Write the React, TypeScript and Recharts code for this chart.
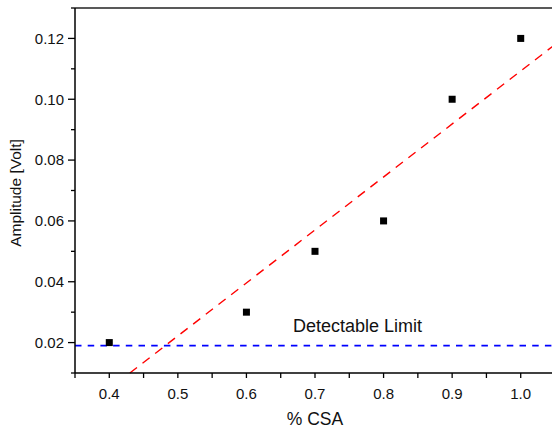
import React from "react";
import {
  ScatterChart,
  Scatter,
  XAxis,
  YAxis,
  ReferenceLine,
} from "recharts";

// measured points (% CSA vs amplitude)
const csa = [0.4, 0.6, 0.7, 0.8, 0.9, 1.0];
const amplitude = [0.02, 0.03, 0.05, 0.06, 0.1, 0.12];

// linear fit drawn as a segment
const fitLine = [
  { x: 0.43, y: 0.01 },
  { x: 1.05, y: 0.118 },
];
const detectableLimit = 0.019;

const xTicks = [0.35, 0.4, 0.45, 0.5, 0.55, 0.6, 0.65, 0.7, 0.75, 0.8, 0.85, 0.9, 0.95, 1.0, 1.05];
const yTicks = [0.01, 0.02, 0.03, 0.04, 0.05, 0.06, 0.07, 0.08, 0.09, 0.1, 0.11, 0.12, 0.13];

const points = csa.map((x, i) => ({ x, y: amplitude[i] }));

const FONT = "'Liberation Sans', Arial, sans-serif";

const XTick = (props: any) => {
  const { x, y, payload } = props;
  const v = payload.value;
  const major = Math.round(v * 100) % 10 === 0;
  return (
    <g>
      <line x1={x} x2={x} y1={y} y2={y + 5} stroke="#000" strokeWidth={1.3} />
      {major && (
        <text x={x} y={y + 26} textAnchor="middle" fontSize={15} fontFamily={FONT} fill="#111">
          {v.toFixed(1)}
        </text>
      )}
    </g>
  );
};

const YTick = (props: any) => {
  const { x, y, payload } = props;
  const v = payload.value;
  const c = Math.round(v * 100);
  const major = c % 2 === 0 && c >= 2 && c <= 12;
  return (
    <g>
      <line x1={x} x2={x - (major ? 7 : 4)} y1={y} y2={y} stroke="#000" strokeWidth={1.3} />
      {major && (
        <text x={x - 11} y={y} dy="0.35em" textAnchor="end" fontSize={15} fontFamily={FONT} fill="#111">
          {v.toFixed(2)}
        </text>
      )}
    </g>
  );
};

const Square = (props: any) => (
  <rect x={props.cx - 3.5} y={props.cy - 3.5} width={7} height={7} fill="#000" />
);

export default function App() {
  return (
    <div
      style={{
        position: "absolute",
        left: 0,
        top: 0,
        width: 552,
        height: 432,
        overflow: "hidden",
        background: "#fff",
      }}
    >
      <ScatterChart width={560} height={432} margin={{ top: 7, right: 5, bottom: 58, left: 74 }}>
        <XAxis
          type="number"
          dataKey="x"
          domain={[0.35, 1.05]}
          ticks={xTicks}
          interval={0}
          height={1}
          tickSize={0}
          tickMargin={0}
          tickLine={false}
          tick={<XTick />}
          axisLine={{ stroke: "#000", strokeWidth: 1.5 }}
          label={{
            value: "% CSA",
            position: "bottom",
            offset: 39,
            fontSize: 17.5,
            fontFamily: FONT,
            fill: "#111",
          }}
        />
        <XAxis
          xAxisId="top"
          orientation="top"
          type="number"
          domain={[0.35, 1.05]}
          height={1}
          tick={false}
          tickLine={false}
          axisLine={{ stroke: "#222", strokeWidth: 1.5 }}
        />
        <YAxis
          type="number"
          dataKey="y"
          domain={[0.01, 0.13]}
          ticks={yTicks}
          interval={0}
          width={1}
          tickSize={0}
          tickMargin={0}
          tickLine={false}
          tick={<YTick />}
          axisLine={{ stroke: "#000", strokeWidth: 1.5 }}
        />
        <ReferenceLine
          y={detectableLimit}
          stroke="#0000ff"
          strokeWidth={1.6}
          strokeDasharray="6.5 6.2"
          label={(p: any) => (
            <text
              x={p.viewBox.x + 218}
              y={p.viewBox.y - 14}
              fontSize={18}
              fontFamily={FONT}
              fill="#111"
            >
              Detectable Limit
            </text>
          )}
        />
        <ReferenceLine
          segment={fitLine}
          stroke="#ff0000"
          strokeWidth={1.4}
          strokeDasharray="9 7"
        />
        <Scatter data={points} shape={<Square />} isAnimationActive={false} />
      </ScatterChart>
      <div
        style={{
          position: "absolute",
          left: 16,
          top: 193,
          transform: "translate(-50%, -50%) rotate(-90deg)",
          whiteSpace: "nowrap",
          fontFamily: FONT,
          fontSize: 15.5,
          lineHeight: 1,
          color: "#111",
        }}
      >
        Amplitude [Volt]
      </div>
    </div>
  );
}
